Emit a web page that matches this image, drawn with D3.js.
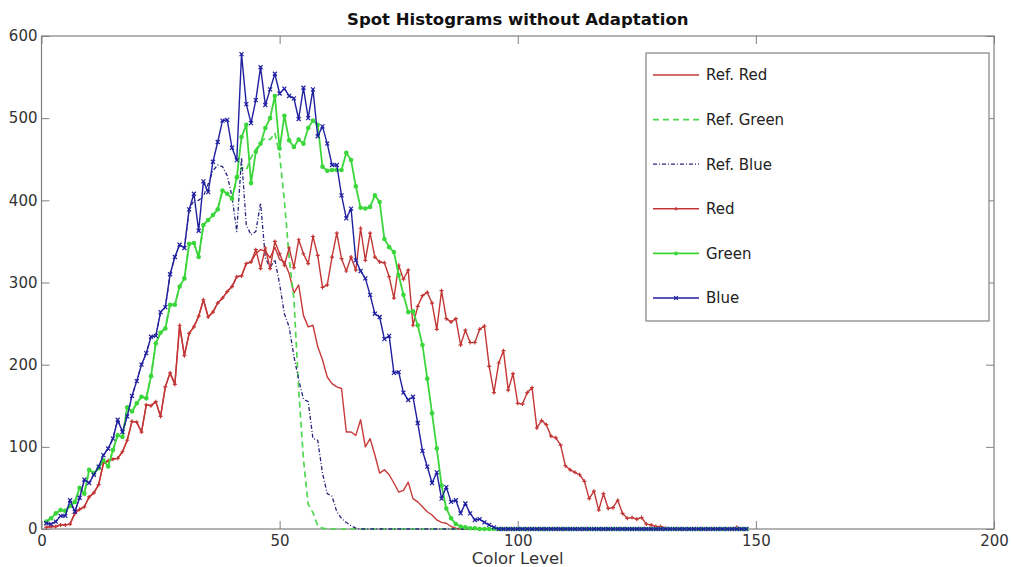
<!DOCTYPE html>
<html>
<head>
<meta charset="utf-8">
<script src="https://cdn.jsdelivr.net/npm/d3@7"></script>
<style>
body { margin: 0; background: #fff; }
text { font-family: "DejaVu Sans", sans-serif; }
</style>
</head>
<body>
<svg id="chart" width="1011" height="567"></svg>
<script>
"use strict";

// colour levels 1..148 (one histogram bin per level)
const levels = d3.range(1, 149);

const xTicks = [0, 50, 100, 150, 200];
const yTicks = [0, 100, 200, 300, 400, 500, 600];

const refRed = [
	2, 3, 3, 5, 5, 6, 19, 24, 27, 39,
	44, 54, 80, 83, 85, 86, 94, 108, 131, 130,
	118, 151, 150, 155, 137, 173, 190, 176, 248, 211,
	238, 246, 259, 279, 258, 264, 275, 281, 289, 295,
	307, 308, 323, 325, 335, 340, 338, 330, 343, 328,
	325, 311, 287, 297, 260, 246, 248, 222, 206, 185,
	177, 173, 171, 118, 118, 114, 133, 100, 110, 90,
	68, 72, 66, 56, 45, 47, 57, 37, 33, 27,
	21, 17, 11, 8, 7, 3, 1, 0, 0, 0,
	0, 0, 0, 0, 0, 0, 0, 0, 0, 0,
	0, 0, 0, 0, 0, 0, 0, 0, 0, 0,
	0, 0, 0, 0, 0, 0, 0, 0, 0, 0,
	0, 0, 0, 0, 0, 0, 0, 0, 0, 0,
	0, 0, 0, 0, 0, 0, 0, 0, 0, 0,
	0, 0, 0, 0, 0, 0, 0, 0
];

const refGreen = [
	9, 13, 19, 23, 22, 28, 33, 50, 43, 72,
	68, 74, 84, 76, 96, 114, 112, 148, 143, 153,
	161, 159, 186, 226, 239, 244, 273, 273, 295, 305,
	347, 348, 331, 370, 376, 382, 389, 412, 408, 402,
	425, 440, 437, 452, 462, 470, 476, 474, 482, 455,
	400, 330, 280, 170, 85, 30, 20, 4, 1, 0,
	0, 0, 0, 0, 0, 0, 0, 0, 0, 0,
	0, 0, 0, 0, 0, 0, 0, 0, 0, 0,
	0, 0, 0, 0, 0, 0, 0, 0, 0, 0,
	0, 0, 0, 0, 0, 0, 0, 0, 0, 0,
	0, 0, 0, 0, 0, 0, 0, 0, 0, 0,
	0, 0, 0, 0, 0, 0, 0, 0, 0, 0,
	0, 0, 0, 0, 0, 0, 0, 0, 0, 0,
	0, 0, 0, 0, 0, 0, 0, 0, 0, 0,
	0, 0, 0, 0, 0, 0, 0, 0
];

const refBlue = [
	7, 6, 9, 16, 16, 35, 21, 38, 60, 56,
	66, 76, 90, 98, 110, 133, 118, 137, 162, 180,
	200, 214, 234, 235, 264, 270, 310, 331, 346, 342,
	389, 400, 400, 405, 420, 436, 443, 441, 430, 405,
	362, 452, 370, 358, 362, 397, 330, 318, 328, 298,
	262, 246, 210, 182, 158, 155, 110, 108, 68, 43,
	40, 21, 13, 8, 4, 1, 0, 0, 0, 0,
	0, 0, 0, 0, 0, 0, 0, 0, 0, 0,
	0, 0, 0, 0, 0, 0, 0, 0, 0, 0,
	0, 0, 0, 0, 0, 0, 0, 0, 0, 0,
	0, 0, 0, 0, 0, 0, 0, 0, 0, 0,
	0, 0, 0, 0, 0, 0, 0, 0, 0, 0,
	0, 0, 0, 0, 0, 0, 0, 0, 0, 0,
	0, 0, 0, 0, 0, 0, 0, 0, 0, 0,
	0, 0, 0, 0, 0, 0, 0, 0
];

const red = [
	2, 3, 3, 5, 5, 6, 19, 24, 27, 39,
	44, 54, 80, 83, 85, 86, 94, 108, 131, 130,
	118, 151, 150, 155, 137, 173, 190, 176, 248, 211,
	238, 246, 259, 279, 258, 264, 275, 281, 289, 295,
	307, 308, 323, 325, 340, 317, 342, 317, 350, 335,
	321, 342, 318, 352, 335, 323, 356, 333, 294, 297,
	331, 360, 329, 314, 331, 315, 366, 327, 360, 331,
	325, 324, 307, 281, 321, 304, 315, 248, 271, 284,
	288, 275, 243, 290, 256, 252, 256, 224, 242, 227,
	227, 243, 247, 198, 166, 202, 217, 169, 189, 153,
	152, 166, 172, 123, 132, 127, 113, 111, 102, 77,
	72, 69, 66, 58, 37, 46, 23, 43, 25, 26,
	35, 19, 13, 14, 12, 14, 6, 5, 3, 3,
	1, 0, 0, 0, 0, 0, 0, 0, 0, 0,
	0, 0, 0, 0, 0, 2, 0, 0
];

const green = [
	9, 13, 19, 23, 22, 28, 33, 50, 43, 72,
	68, 74, 84, 76, 96, 114, 112, 148, 143, 153,
	161, 159, 186, 226, 239, 244, 273, 273, 295, 305,
	347, 348, 331, 370, 376, 382, 389, 412, 408, 402,
	428, 477, 492, 421, 459, 469, 488, 500, 527, 463,
	503, 473, 465, 474, 469, 488, 497, 492, 441, 436,
	437, 437, 437, 458, 449, 417, 391, 390, 392, 406,
	398, 353, 343, 337, 309, 285, 264, 265, 248, 224,
	183, 141, 98, 53, 25, 13, 6, 3, 2, 1,
	1, 0, 0, 0, 0, 0, 0, 0, 0, 0,
	0, 0, 0, 0, 0, 0, 0, 0, 0, 0,
	0, 0, 0, 0, 0, 0, 0, 0, 0, 0,
	0, 0, 0, 0, 0, 0, 0, 0, 0, 0,
	0, 0, 0, 0, 0, 0, 0, 0, 0, 0,
	0, 0, 0, 0, 0, 0, 0, 0
];

const blue = [
	7, 6, 9, 16, 16, 35, 21, 38, 60, 56,
	66, 76, 90, 98, 110, 133, 118, 137, 162, 180,
	200, 214, 234, 235, 264, 270, 310, 331, 346, 342,
	389, 408, 363, 423, 410, 447, 471, 497, 498, 464,
	449, 578, 517, 494, 522, 562, 516, 535, 554, 530,
	536, 527, 524, 499, 537, 500, 535, 478, 490, 469,
	443, 443, 406, 378, 390, 327, 314, 305, 285, 262,
	258, 231, 235, 190, 191, 166, 157, 161, 129, 95,
	76, 56, 69, 37, 51, 33, 35, 19, 31, 19,
	11, 12, 8, 5, 2, 0, 0, 0, 0, 0,
	0, 0, 0, 0, 0, 0, 0, 0, 0, 0,
	0, 0, 0, 0, 0, 0, 0, 0, 0, 0,
	0, 0, 0, 0, 0, 0, 0, 0, 0, 0,
	0, 0, 0, 0, 0, 0, 0, 0, 0, 0,
	0, 0, 0, 0, 0, 0, 0, 0
];

const seriesNames = ["Ref. Red", "Ref. Green", "Ref. Blue", "Red", "Green", "Blue"];

// drawing table built from the arrays above
const series = [
	{ name: seriesNames[0], values: refRed, color: "#c83a3a", width: 1.4, dash: null, marker: null },
	{ name: seriesNames[1], values: refGreen, color: "#4fd84f", width: 1.7, dash: "6,4", marker: null },
	{ name: seriesNames[2], values: refBlue, color: "#26267e", width: 1.3, dash: "4,2,1,2", marker: null },
	{ name: seriesNames[3], values: red, color: "#c33636", width: 1.4, dash: null, marker: "plus" },
	{ name: seriesNames[4], values: green, color: "#3ad63a", width: 1.8, dash: null, marker: "dot" },
	{ name: seriesNames[5], values: blue, color: "#1f1fa0", width: 1.4, dash: null, marker: "cross" }
];

const W = 1011, H = 567;
const plot = { left: 41.5, right: 994, top: 36, bottom: 529 };
const axisColor = "#808080";
const labelColor = "#333";

const svg = d3.select("#chart");

svg.append("rect")
	.attr("width", W)
	.attr("height", H)
	.attr("fill", "#fff");

const x = d3.scaleLinear().domain([0, 200]).range([plot.left, plot.right]);
const y = d3.scaleLinear().domain([0, 600]).range([plot.bottom, plot.top]);

// title
svg.append("text")
	.attr("x", (plot.left + plot.right) / 2)
	.attr("y", 25)
	.attr("text-anchor", "middle")
	.style("font-size", "16.5px")
	.style("font-weight", "bold")
	.style("fill", "#111")
	.text("Spot Histograms without Adaptation");

// ticks point inwards on all four sides, matlab style
function styleAxis(g) {
	g.select(".domain").remove();
	g.selectAll(".tick line").attr("stroke", axisColor);
	g.selectAll(".tick text")
		.style("font-size", "15px")
		.style("fill", labelColor)
		.style("font-family", "DejaVu Sans, sans-serif");
}

svg.append("g")
	.attr("transform", "translate(0," + plot.bottom + ")")
	.call(d3.axisBottom(x).tickValues(xTicks).tickSize(-8).tickSizeOuter(0).tickPadding(6))
	.call(styleAxis);

svg.append("g")
	.attr("transform", "translate(0," + plot.top + ")")
	.call(d3.axisTop(x).tickValues(xTicks).tickSize(-8).tickSizeOuter(0).tickFormat(""))
	.call(styleAxis);

svg.append("g")
	.attr("transform", "translate(" + plot.left + ",0)")
	.call(d3.axisLeft(y).tickValues(yTicks).tickSize(-8).tickSizeOuter(0).tickPadding(4))
	.call(styleAxis);

svg.append("g")
	.attr("transform", "translate(" + plot.right + ",0)")
	.call(d3.axisRight(y).tickValues(yTicks).tickSize(-8).tickSizeOuter(0).tickFormat(""))
	.call(styleAxis);

// plot box
svg.append("rect")
	.attr("x", plot.left)
	.attr("y", plot.top)
	.attr("width", plot.right - plot.left)
	.attr("height", plot.bottom - plot.top)
	.attr("fill", "none")
	.attr("stroke", axisColor)
	.attr("stroke-width", 1.2);

svg.append("text")
	.attr("x", (plot.left + plot.right) / 2)
	.attr("y", 564)
	.attr("text-anchor", "middle")
	.style("font-size", "16.5px")
	.style("fill", labelColor)
	.text("Color Level");

const line = d3.line()
	.x(function (d, i) { return x(levels[i]); })
	.y(function (d) { return y(d); });

function markerPath(type, s) {
	if (type == "plus") return "M" + (-s) + ",0H" + s + "M0," + (-s) + "V" + s;
	if (type == "cross") return "M" + (-s) + "," + (-s) + "L" + s + "," + s + "M" + (-s) + "," + s + "L" + s + "," + (-s);
	return null;
}

function drawMarkers(g, s, cx, cy, size) {
	if (s.marker == "dot") {
		g.append("circle")
			.attr("cx", cx)
			.attr("cy", cy)
			.attr("r", size)
			.attr("fill", s.color);
	} else if (s.marker) {
		g.append("path")
			.attr("transform", "translate(" + cx + "," + cy + ")")
			.attr("d", markerPath(s.marker, size))
			.attr("fill", "none")
			.attr("stroke", s.color)
			.attr("stroke-width", 1.2);
	}
}

const lines = svg.append("g");

series.forEach(function (s) {
	lines.append("path")
		.datum(s.values)
		.attr("d", line)
		.attr("fill", "none")
		.attr("stroke", s.color)
		.attr("stroke-width", s.width)
		.attr("stroke-dasharray", s.dash)
		.attr("stroke-linejoin", "round");

	if (s.marker) {
		let mg = lines.append("g");
		s.values.forEach(function (v, i) {
			drawMarkers(mg, s, x(levels[i]), y(v), s.marker == "dot" ? 2.3 : 2);
		});
	}
});

// legend
const legend = { x: 646, y: 53, w: 343, h: 268, first: 75, step: 44.6 };

svg.append("rect")
	.attr("x", legend.x)
	.attr("y", legend.y)
	.attr("width", legend.w)
	.attr("height", legend.h)
	.attr("fill", "#fff")
	.attr("stroke", axisColor)
	.attr("stroke-width", 1.2);

series.forEach(function (s, i) {
	let ly = legend.first + i * legend.step;
	let g = svg.append("g");
	g.append("line")
		.attr("x1", 653)
		.attr("x2", 699)
		.attr("y1", ly)
		.attr("y2", ly)
		.attr("stroke", s.color)
		.attr("stroke-width", s.width)
		.attr("stroke-dasharray", s.dash);
	drawMarkers(g, s, 676, ly, s.marker == "dot" ? 2 : 1.8);
	g.append("text")
		.attr("x", 706)
		.attr("y", ly)
		.attr("dy", "0.36em")
		.style("font-size", "15px")
		.style("fill", "#222")
		.text(s.name);
});
</script>
</body>
</html>
